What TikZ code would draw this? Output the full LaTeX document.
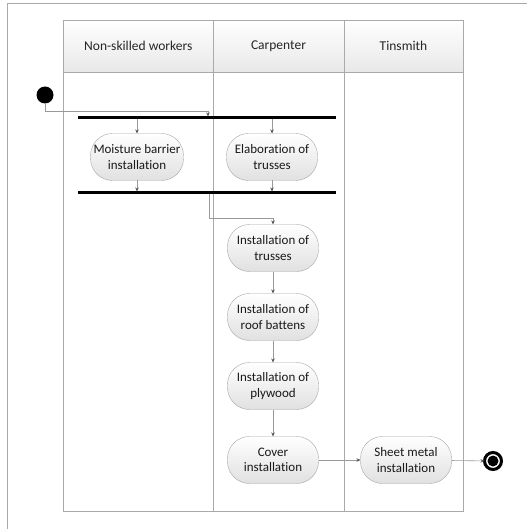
\documentclass[tikz,border=0pt]{standalone}
\usepackage{fontspec}
\setmainfont{Carlito}[Ligatures=NoCommon]
\usetikzlibrary{arrows.meta}
\definecolor{lanegray}{RGB}{170,170,170}
\begin{document}
\begin{tikzpicture}[x=1pt, y=-1pt,
  lane/.style={draw=lanegray, line width=0.8pt},
  head/.style={draw=lanegray, line width=0.8pt, top color=white, bottom color=black!9, minimum height=52pt, font=\fontsize{13.5}{16}\selectfont, text=black!85},
  act/.style={draw=black!35, rounded corners=22pt, top color=white, bottom color=black!12, align=center, minimum width=91pt, minimum height=47pt, inner xsep=3pt, font=\fontsize{13}{15.5}\selectfont, text=black!90},
  bar/.style={fill=black, minimum width=258pt, minimum height=3pt, inner sep=0pt},
  flow/.style={draw=black!40, line width=0.6pt, -{Stealth[length=4pt, width=3.5pt, black!65]}},
  every node/.style={outer sep=0pt}
]
  \useasboundingbox (0,0) rectangle (527,529);
  \draw[lanegray, line width=0.8pt] (7,529) -- (7,3) -- (527,3);

  % swimlanes
  \node[head, minimum width=149.5pt] (lane1) at (138.25,46) {Non-skilled workers};
  \node[head, minimum width=131pt] (lane2) at (278.5,46) {Carpenter};
  \node[head, minimum width=119pt] (lane3) at (403.5,46) {Tinsmith};
  \draw[lane] (63.5,72) rectangle (213,511);
  \draw[lane] (213,72) rectangle (344,511);
  \draw[lane] (344,72) rectangle (463,511);

  \node[circle, fill=black, minimum size=17pt, inner sep=0pt] (start) at (45,95) {};
  \node[bar] (fork) at (207,118) {};
  \node[act] (moisture) at (137,157) {Moisture barrier\\installation};
  \node[act] (elaboration) at (272,157) {Elaboration of\\trusses};
  \node[bar] (join) at (207,193) {};

  \node[act] (trusses) at (273,248) {Installation of\\trusses};
  \node[act] (battens) at (273,317) {Installation of\\roof battens};
  \node[act] (plywood) at (273,386) {Installation of\\plywood};
  \node[act] (cover) at (273,460) {Cover\\installation};
  \node[act] (sheet) at (406,460) {Sheet metal\\installation};
  \node[circle, draw=black, line width=3pt, fill=white, minimum size=17pt, inner sep=0pt,
    path picture={\fill[black] (path picture bounding box.center) circle (5.5pt);}] (end) at (493,461) {};

  \coordinate (bend1) at (208,111);
  \coordinate (bend2) at (209,218);

  \draw[flow] (start) |- (bend1) -- (bend1 |- fork.north);
  \draw[flow] (fork.south -| moisture.north) -- (moisture.north);
  \draw[flow] (fork.south -| elaboration.north) -- (elaboration.north);
  \draw[flow] (moisture.south) -- (join.north -| moisture.south);
  \draw[flow] (elaboration.south) -- (join.north -| elaboration.south);
  \draw[flow] (join.south -| bend2) -- (bend2) -| (trusses.north);
  \draw[flow] (trusses) -- (battens);
  \draw[flow] (battens) -- (plywood);
  \draw[flow] (plywood) -- (cover);
  \draw[flow] (cover) -- (sheet);
  \draw[flow] (sheet) -- (end);
\end{tikzpicture}
\end{document}
